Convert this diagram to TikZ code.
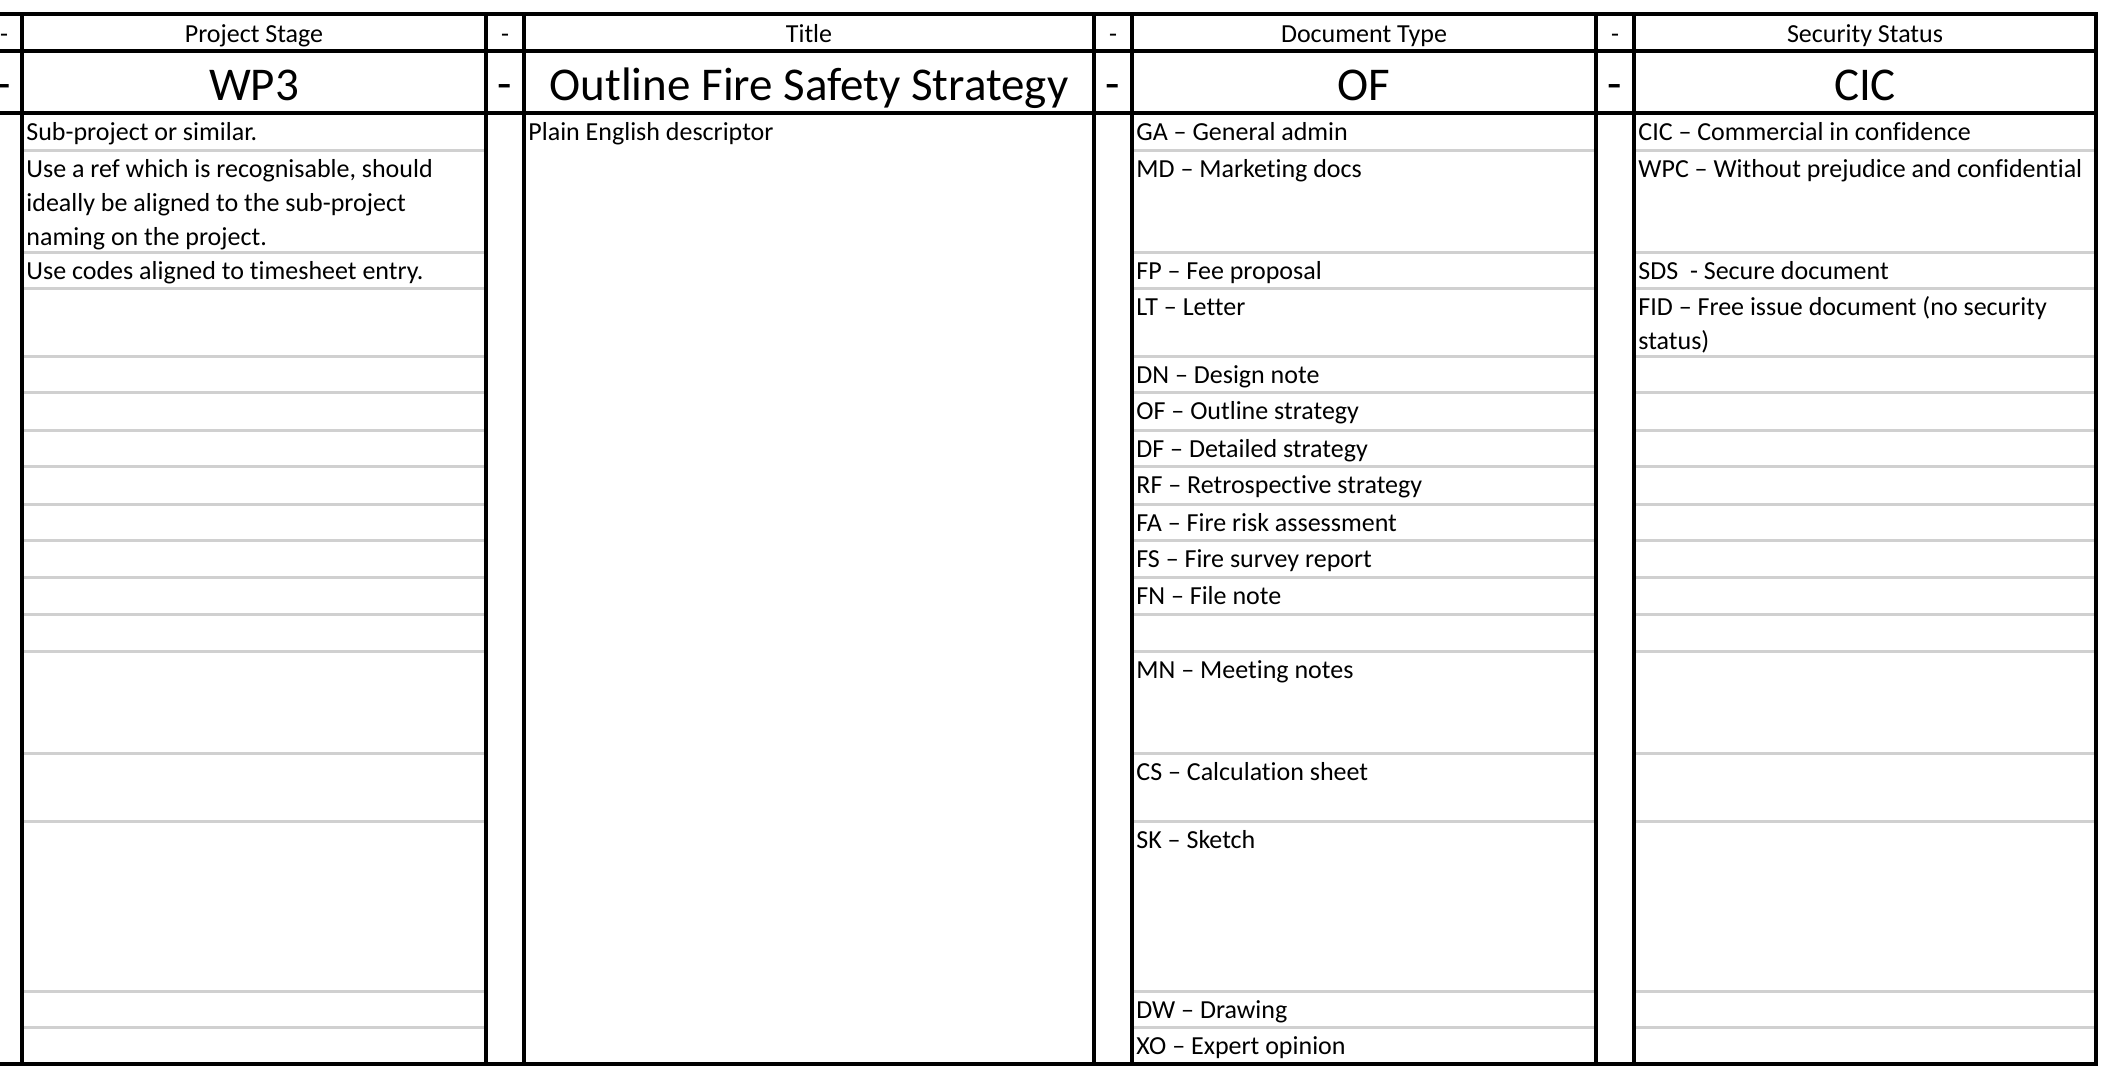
\documentclass[tikz,border=0pt]{standalone}
\usepackage{fontspec}
\setmainfont{Carlito}[Ligatures={NoCommon}]
\newcommand\cellfnt{\fontsize{13pt}{17pt}\selectfont}
\newcommand\bigfnt{\fontsize{23.5pt}{28pt}\selectfont}
\definecolor{gridgray}{RGB}{208,208,208}
\begin{document}
\begin{tikzpicture}[x=0.5pt,y=-0.5pt,
  blk/.style={draw=black,line width=2pt},
  gry/.style={draw=gridgray,line width=1.5pt},
  cell/.style={anchor=base west,inner sep=0pt,font=\cellfnt},
  hdr/.style={anchor=base,inner sep=0pt,font=\cellfnt},
  bigtxt/.style={anchor=base,inner sep=0pt,font=\bigfnt}]
\useasboundingbox[fill=white] (0,0) rectangle (2110,1078);

% grey row lines in the three code columns
\foreach \y in {150,252,288,356,392,430,466,504,540,577,614,651,753,821,991,1027}{
  \draw[gry] (24,\y) -- (484,\y);
  \draw[gry] (1134,\y) -- (1594,\y);
  \draw[gry] (1636,\y) -- (2094,\y);
}

% black frame lines
\foreach \y in {14,51,113,1064}{
  \draw[blk] (0,\y) -- (2098,\y);
}
\foreach \x in {22,486,524,1094,1132,1596,1634,2096}{
  \draw[blk] (\x,12) -- (\x,1066);
}

% header row
\node[hdr] (d0h) at (4,42) {-};
\node[hdr] (h1) at (254,42) {Project Stage};
\node[hdr] (d1h) at (505,42) {-};
\node[hdr] (h2) at (809,42) {Title};
\node[hdr] (d2h) at (1113,42) {-};
\node[hdr] (h3) at (1364,42) {Document Type};
\node[hdr] (d3h) at (1615,42) {-};
\node[hdr] (h4) at (1865,42) {Security Status};

% big row
\node[bigtxt] (d0b) at (4,99) {-};
\node[bigtxt] (v1) at (254,100) {WP3};
\node[bigtxt] (d1b) at (505,99) {-};
\node[bigtxt] (v2) at (809,100) {Outline Fire Safety Strategy};
\node[bigtxt] (d2b) at (1113,99) {-};
\node[bigtxt] (v3) at (1364,100) {OF};
\node[bigtxt] (d3b) at (1615,99) {-};
\node[bigtxt] (v4) at (1865,100) {CIC};

% project stage column
\node[cell] (p1) at (26,140) {Sub-project or similar.};
\node[cell] (p2a) at (26,177) {Use a ref which is recognisable, should};
\node[cell] (p2b) at (26,211) {ideally be aligned to the sub-project};
\node[cell] (p2c) at (26,245) {naming on the project.};
\node[cell] (p3) at (26,279) {Use codes aligned to timesheet entry.};

% title column
\node[cell] (t1) at (528,140) {Plain English descriptor};

% document type column
\node[cell] (c1) at (1136,140) {GA – General admin};
\node[cell] (c2) at (1136,177) {MD – Marketing docs};
\node[cell] (c3) at (1136,279) {FP – Fee proposal};
\node[cell] (c4) at (1136,315) {LT – Letter};
\node[cell] (c5) at (1136,383) {DN – Design note};
\node[cell] (c6) at (1136,419) {OF – Outline strategy};
\node[cell] (c7) at (1136,457) {DF – Detailed strategy};
\node[cell] (c8) at (1136,493) {RF – Retrospective strategy};
\node[cell] (c9) at (1136,531) {FA – Fire risk assessment};
\node[cell] (c10) at (1136,567) {FS – Fire survey report};
\node[cell] (c11) at (1136,604) {FN – File note};
\node[cell] (c12) at (1136,678) {MN – Meeting notes};
\node[cell] (c13) at (1136,780) {CS – Calculation sheet};
\node[cell] (c14) at (1136,848) {SK – Sketch};
\node[cell] (c15) at (1136,1018) {DW – Drawing};
\node[cell] (c16) at (1136,1054) {XO – Expert opinion};

% security status column
\node[cell] (s1) at (1638,140) {CIC – Commercial in confidence};
\node[cell] (s2) at (1638,177) {WPC – Without prejudice and confidential};
\node[cell] (s3) at (1638,279) {SDS\ \ - Secure document};
\node[cell] (s4a) at (1638,315) {FID – Free issue document (no security};
\node[cell] (s4b) at (1638,349) {status)};
\end{tikzpicture}
\end{document}
